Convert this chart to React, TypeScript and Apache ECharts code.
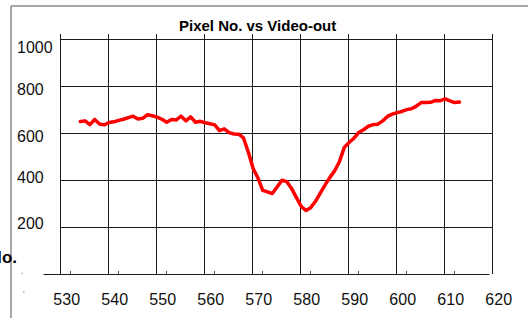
import React, { useEffect, useRef } from "react";
import * as echarts from "echarts";

const pixelNo = [
  532, 533, 534, 535, 536, 537, 538, 539, 540, 541, 542, 543, 544, 545, 546, 547, 548, 549, 550, 551,
  552, 553, 554, 555, 556, 557, 558, 559, 560, 561, 562, 563, 564, 565, 566, 567, 568, 569, 570, 571,
  572, 573, 574, 575, 576, 577, 578, 579, 580, 581, 582, 583, 584, 585, 586, 587, 588, 589, 590, 591,
  592, 593, 594, 595, 596, 597, 598, 599, 600, 601, 602, 603, 604, 605, 606, 607, 608, 609, 610, 611,
];
const videoOut = [
  650, 653, 637, 659, 640, 636, 646, 649, 655, 660, 667, 673, 661, 664, 679, 675, 669, 660, 647, 659,
  657, 673, 653, 670, 647, 651, 645, 641, 636, 611, 619, 603, 597, 596, 580, 520, 450, 410, 357, 350,
  343, 371, 400, 394, 365, 327, 289, 271, 283, 310, 345, 380, 412, 440, 480, 540, 561, 579, 603, 615,
  630, 637, 639, 653, 672, 682, 688, 693, 701, 705, 716, 731, 731, 732, 740, 739, 747, 738, 731, 733,
];
const xTickLabels = [530, 540, 550, 560, 570, 580, 590, 600, 610, 620];
const xTickMarks = [530, 540, 550, 560, 570, 580, 590, 600, 610];
const yTickLabels = [200, 400, 600, 800, 1000];
const titleText = "Pixel No. vs Video-out";
const axisTitleFragment = "No.";

const FONT = "Liberation Sans, Arial, sans-serif";

export default function App() {
  const ref = useRef<HTMLDivElement>(null);

  useEffect(() => {
    if (!ref.current) return;
    const chart = echarts.init(ref.current, null, { renderer: "svg" });

    const yShift: Record<number, number> = { 1000: 8, 800: 3.5, 600: 2.7, 400: -3.2, 200: -3.3 };
    const rich: Record<string, any> = {};
    yTickLabels.forEach((v) => {
      const s = yShift[v] || 0;
      rich["o" + v] = {
        fontSize: 16,
        fontFamily: FONT,
        color: "#111",
        padding: s >= 0 ? [2 * s, 0, 0, 0] : [0, 0, -2 * s, 0],
      };
    });

    const lineColor = "#1a1a1a";

    const option: any = {
      animation: false,
      backgroundColor: "#ffffff",
      title: {
        text: titleText,
        left: 179,
        top: 18,
        padding: 0,
        textStyle: { fontSize: 15, fontWeight: "bold", fontFamily: FONT, color: "#000" },
      },
      grid: [
        // vertical grid lines
        { left: 60.3, top: 34, width: 432.4, height: 240 },
        // horizontal grid lines + y labels
        { left: 60.3, top: 39.5, width: 432.4, height: 234.5 },
        // data grid
        { left: 60.3, top: 39.5, width: 442.4, height: 234.5 },
        // x axis line
        { left: 44, top: 200, width: 445, height: 74 },
      ],
      xAxis: [
        {
          gridIndex: 0,
          type: "value",
          min: 0,
          max: 90,
          interval: 10,
          axisLine: { show: false },
          axisTick: { show: false },
          axisLabel: { show: false },
          splitLine: { show: true, lineStyle: { color: lineColor, width: 1 } },
        },
        { gridIndex: 1, type: "value", min: 0, max: 1, show: false },
        {
          gridIndex: 2,
          type: "value",
          min: 527.833,
          max: 620,
          axisLine: { show: false },
          axisTick: {
            show: true,
            inside: true,
            length: 3,
            customValues: xTickMarks,
            lineStyle: { color: "#555", width: 1 },
          },
          axisLabel: {
            show: true,
            customValues: xTickLabels,
            margin: 17,
            fontSize: 16,
            fontFamily: FONT,
            color: "#111",
            padding: [0, 8, 0, 0],
          },
          splitLine: { show: false },
        },
        {
          gridIndex: 3,
          type: "value",
          min: 0,
          max: 1,
          axisLine: { show: true, lineStyle: { color: lineColor, width: 1 } },
          axisTick: { show: false },
          axisLabel: { show: false },
          splitLine: { show: false },
        },
      ],
      yAxis: [
        { gridIndex: 0, type: "value", min: 0, max: 1, show: false },
        {
          gridIndex: 1,
          type: "value",
          min: 0,
          max: 1000,
          interval: 200,
          axisLine: { show: false },
          axisTick: { show: false },
          axisLabel: {
            show: true,
            align: "left",
            margin: 43.3,
            showMinLabel: false,
            formatter: (v: number) => (v === 0 ? "" : `{o${v}|${v}}`),
            rich,
          },
          splitLine: { show: true, showMinLine: false, lineStyle: { color: lineColor, width: 1 } },
        },
        { gridIndex: 2, type: "value", min: 0, max: 1000, show: false },
        { gridIndex: 3, type: "value", min: 0, max: 1, show: false },
      ],
      series: [
        {
          type: "line",
          xAxisIndex: 2,
          yAxisIndex: 2,
          data: pixelNo.map((x, i) => [x, videoOut[i]]),
          symbol: "none",
          smooth: false,
          z: 10,
          lineStyle: { color: "#ff0000", width: 3.5, join: "round", cap: "round" },
        },
      ],
      graphic: [
        {
          type: "line",
          shape: { x1: 11, y1: 6, x2: 528, y2: 6 },
          style: { stroke: "#8a8a8a", lineWidth: 1.5 },
          silent: true,
        },
        {
          type: "line",
          shape: { x1: 11, y1: 6, x2: 11, y2: 318 },
          style: { stroke: "#8a8a8a", lineWidth: 1.5 },
          silent: true,
        },
        {
          type: "text",
          x: 17,
          y: 257,
          style: {
            text: axisTitleFragment,
            fontSize: 17,
            fontWeight: "bold",
            fontFamily: FONT,
            fill: "#000",
            align: "right",
            verticalAlign: "middle",
          },
          silent: true,
        },
        { type: "circle", shape: { cx: 22.3, cy: 273.3, r: 0.7 }, style: { fill: "#999" }, silent: true },
        { type: "circle", shape: { cx: 23.7, cy: 291.7, r: 0.8 }, style: { fill: "#aaa" }, silent: true },
      ],
    };

    chart.setOption(option);
    return () => chart.dispose();
  }, []);

  return (
    <div
      ref={ref}
      style={{ position: "absolute", left: 0, top: 0, width: 528, height: 318, background: "#fff" }}
    />
  );
}
